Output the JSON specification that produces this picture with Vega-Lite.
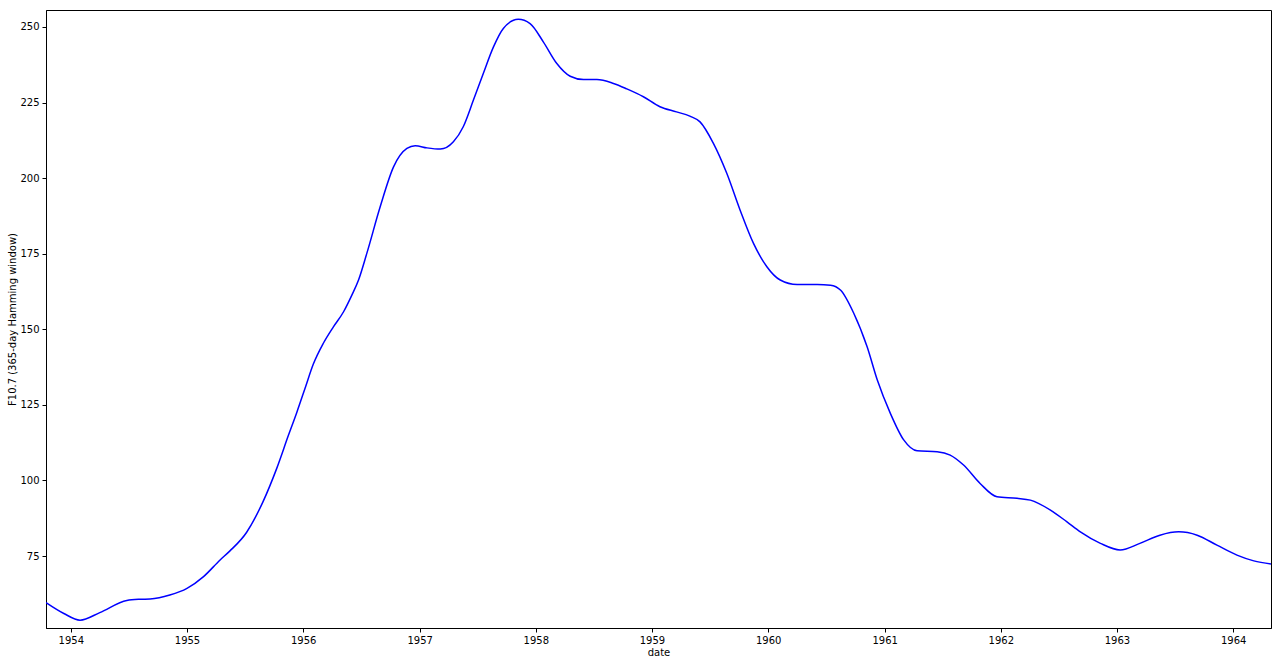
{
  "$schema": "https://vega.github.io/schema/vega-lite/v6.json",
  "width": 1225,
  "height": 618,
  "autosize": {"type": "none"},
  "padding": {"left": 46, "top": 10, "right": 9, "bottom": 39},
  "background": "white",
  "config": {
    "view": {"stroke": "#000000", "strokeWidth": 1},
    "font": "DejaVu Sans",
    "axis": {
      "grid": false,
      "domainColor": "#000000",
      "tickColor": "#000000",
      "labelColor": "#000000",
      "titleColor": "#000000",
      "labelFont": "DejaVu Sans",
      "titleFont": "DejaVu Sans",
      "labelFontSize": 10,
      "titleFontSize": 10,
      "titleFontWeight": "normal",
      "tickSize": 4,
      "labelPadding": 3
    }
  },
  "data": {
    "values": [
      {"date": "1953-10-15", "f107": 59.6},
      {"date": "1953-12-10", "f107": 56.0},
      {"date": "1954-01-30", "f107": 53.8},
      {"date": "1954-04-02", "f107": 56.3},
      {"date": "1954-06-26", "f107": 60.3},
      {"date": "1954-08-07", "f107": 60.7},
      {"date": "1954-09-07", "f107": 60.8},
      {"date": "1954-11-08", "f107": 62.1},
      {"date": "1955-01-01", "f107": 64.3},
      {"date": "1955-02-22", "f107": 68.2},
      {"date": "1955-04-15", "f107": 73.7},
      {"date": "1955-05-16", "f107": 76.7},
      {"date": "1955-07-07", "f107": 82.8},
      {"date": "1955-08-28", "f107": 93.0},
      {"date": "1955-10-10", "f107": 104.0},
      {"date": "1955-11-16", "f107": 115.0},
      {"date": "1955-12-12", "f107": 122.5},
      {"date": "1956-01-07", "f107": 130.5},
      {"date": "1956-02-02", "f107": 138.5},
      {"date": "1956-03-04", "f107": 145.3},
      {"date": "1956-04-05", "f107": 150.8},
      {"date": "1956-05-07", "f107": 155.8},
      {"date": "1956-06-02", "f107": 161.3},
      {"date": "1956-06-23", "f107": 166.3},
      {"date": "1956-07-19", "f107": 175.1},
      {"date": "1956-08-30", "f107": 190.5},
      {"date": "1956-10-11", "f107": 203.7},
      {"date": "1956-11-22", "f107": 209.8},
      {"date": "1956-12-18", "f107": 210.7},
      {"date": "1957-01-24", "f107": 210.0},
      {"date": "1957-03-07", "f107": 209.6},
      {"date": "1957-04-17", "f107": 212.0},
      {"date": "1957-05-18", "f107": 217.0},
      {"date": "1957-06-19", "f107": 225.8},
      {"date": "1957-07-20", "f107": 234.6},
      {"date": "1957-08-21", "f107": 243.4},
      {"date": "1957-09-21", "f107": 249.5},
      {"date": "1957-11-07", "f107": 252.5},
      {"date": "1957-12-14", "f107": 251.1},
      {"date": "1958-01-25", "f107": 245.0},
      {"date": "1958-03-08", "f107": 237.9},
      {"date": "1958-04-19", "f107": 233.7},
      {"date": "1958-05-31", "f107": 232.6},
      {"date": "1958-07-12", "f107": 232.6},
      {"date": "1958-09-02", "f107": 231.3},
      {"date": "1958-10-14", "f107": 229.5},
      {"date": "1958-12-05", "f107": 226.9},
      {"date": "1959-01-26", "f107": 223.6},
      {"date": "1959-03-19", "f107": 221.9},
      {"date": "1959-04-30", "f107": 220.5},
      {"date": "1959-06-01", "f107": 218.6},
      {"date": "1959-07-13", "f107": 211.5},
      {"date": "1959-08-24", "f107": 201.6},
      {"date": "1959-10-05", "f107": 189.4},
      {"date": "1959-11-16", "f107": 178.4},
      {"date": "1959-12-28", "f107": 170.7},
      {"date": "1960-02-08", "f107": 166.3},
      {"date": "1960-04-01", "f107": 164.8},
      {"date": "1960-06-03", "f107": 164.8},
      {"date": "1960-07-15", "f107": 164.6},
      {"date": "1960-08-16", "f107": 162.9},
      {"date": "1960-09-26", "f107": 155.3},
      {"date": "1960-11-07", "f107": 144.2},
      {"date": "1960-12-09", "f107": 133.2},
      {"date": "1961-01-19", "f107": 122.2},
      {"date": "1961-03-02", "f107": 113.4},
      {"date": "1961-04-13", "f107": 109.8},
      {"date": "1961-06-15", "f107": 109.5},
      {"date": "1961-07-26", "f107": 108.4},
      {"date": "1961-09-06", "f107": 105.1},
      {"date": "1961-10-28", "f107": 99.0},
      {"date": "1961-12-20", "f107": 94.6},
      {"date": "1962-02-21", "f107": 94.1},
      {"date": "1962-04-04", "f107": 93.5},
      {"date": "1962-06-06", "f107": 90.2},
      {"date": "1962-07-28", "f107": 86.3},
      {"date": "1962-09-08", "f107": 83.0},
      {"date": "1962-11-10", "f107": 79.2},
      {"date": "1963-01-11", "f107": 77.0},
      {"date": "1963-03-14", "f107": 79.2},
      {"date": "1963-05-16", "f107": 81.9},
      {"date": "1963-07-14", "f107": 83.0},
      {"date": "1963-09-10", "f107": 81.9},
      {"date": "1963-11-11", "f107": 78.6},
      {"date": "1964-01-13", "f107": 75.3},
      {"date": "1964-03-06", "f107": 73.4},
      {"date": "1964-04-29", "f107": 72.4}
    ]
  },
  "mark": {"type": "line", "color": "#0000ff", "strokeWidth": 1.5, "interpolate": "monotone", "clip": true},
  "encoding": {
    "x": {
      "field": "date",
      "type": "temporal",
      "scale": {"domain": [{"year": 1953, "month": 10, "date": 15}, {"year": 1964, "month": 4, "date": 29}], "nice": false},
      "axis": {
        "title": "date",
        "format": "%Y",
        "values": [{"year": 1954, "month": 1, "date": 1}, {"year": 1955, "month": 1, "date": 1}, {"year": 1956, "month": 1, "date": 1}, {"year": 1957, "month": 1, "date": 1}, {"year": 1958, "month": 1, "date": 1}, {"year": 1959, "month": 1, "date": 1}, {"year": 1960, "month": 1, "date": 1}, {"year": 1961, "month": 1, "date": 1}, {"year": 1962, "month": 1, "date": 1}, {"year": 1963, "month": 1, "date": 1}, {"year": 1964, "month": 1, "date": 1}],
        "labelAngle": 0,
        "labelFlush": false,
        "labelOverlap": false,
        "titleY": 27,
        "titleBaseline": "alphabetic"
      }
    },
    "y": {
      "field": "f107",
      "type": "quantitative",
      "scale": {"domain": [51.2, 255.6], "nice": false, "zero": false},
      "axis": {
        "title": "F10.7 (365-day Hamming window)",
        "values": [75, 100, 125, 150, 175, 200, 225, 250],
        "labelFlush": false,
        "titleX": -34,
        "titleY": 309,
        "titleAngle": -90,
        "titleAlign": "center",
        "titleBaseline": "middle"
      }
    }
  }
}
